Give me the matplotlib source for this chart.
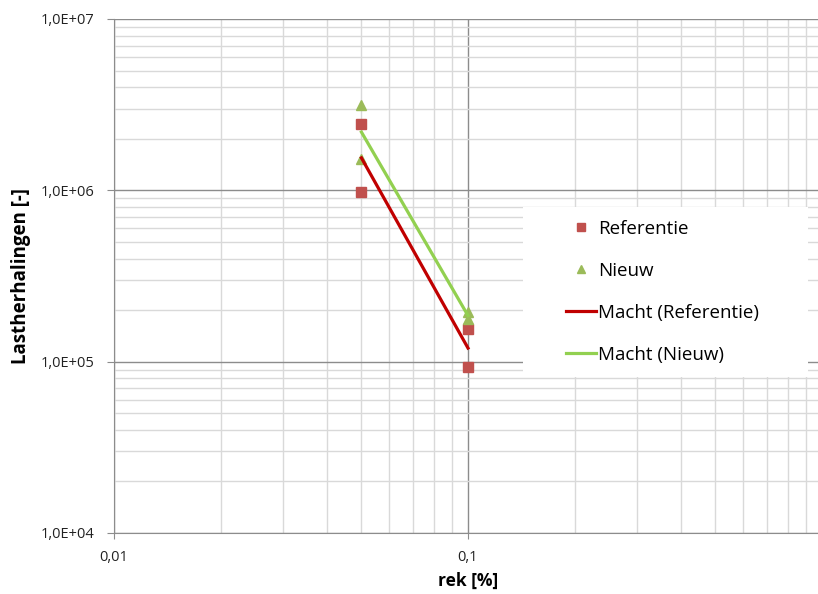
import numpy as np
import matplotlib; matplotlib.use("Agg")
import matplotlib.pyplot as plt
from matplotlib.ticker import LogLocator, FixedLocator, FixedFormatter, NullFormatter
from matplotlib.patches import Rectangle

plt.rcParams["font.family"] = ["Open Sans", "DejaVu Sans"]

# strain [%] vs load repetitions
ref_x = [0.05, 0.05, 0.1, 0.1]
ref_y = [2.44e6, 9.8e5, 1.55e5, 9.3e4]
new_x = [0.05, 0.05, 0.1, 0.1]
new_y = [3.15e6, 1.52e6, 1.95e5, 1.77e5]

y_ticks = [1e4, 1e5, 1e6, 1e7]
y_labels = ["1,0E+04", "1,0E+05", "1,0E+06", "1,0E+07"]
x_ticks = [0.01, 0.1, 1]
x_labels = ["0,01", "0,1", "1"]

RED_PT, GREEN_PT = "#C0504D", "#9BBB59"
RED_LN, GREEN_LN = "#C00000", "#92D050"

def power_fit(x, y):
    # y = a * x^b, least squares in log-log space
    b, loga = np.polyfit(np.log10(x), np.log10(y), 1)
    xs = np.array([min(x), max(x)])
    return xs, 10 ** loga * xs ** b

W, H = 818, 594
fig = plt.figure(figsize=(W / 100, H / 100), dpi=100)
ax = fig.add_axes([114 / W, 1 - 533 / H, (822 - 114) / W, (533 - 19) / H])
ax.set_xscale("log"); ax.set_yscale("log")
ax.set_xlim(0.01, 1); ax.set_ylim(1e4, 1e7)

ax.xaxis.set_major_locator(FixedLocator(x_ticks))
ax.xaxis.set_major_formatter(FixedFormatter(x_labels))
ax.yaxis.set_major_locator(FixedLocator(y_ticks))
ax.yaxis.set_major_formatter(FixedFormatter(y_labels))
for a in (ax.xaxis, ax.yaxis):
    a.set_minor_locator(LogLocator(base=10, subs=np.arange(2, 10)))
    a.set_minor_formatter(NullFormatter())

ax.grid(True, which="minor", color="#d9d9d9", lw=1.0, zorder=0)
ax.grid(True, which="major", color="#8c8c8c", lw=1.0, zorder=0)
ax.set_axisbelow(True)
for s in ("top", "right"):
    ax.spines[s].set_visible(False)
for s in ("left", "bottom"):
    ax.spines[s].set_color("#8c8c8c")
ax.tick_params(which="major", direction="out", color="#8c8c8c", labelsize=10.5, labelcolor="#222222")
ax.tick_params(axis="y", which="major", length=5, pad=9)
ax.tick_params(axis="x", which="major", length=4, pad=8)
ax.tick_params(which="minor", length=0)

ax.plot(ref_x, ref_y, "s", color=RED_PT, ms=7, label="Referentie", zorder=3, clip_on=False)
ax.plot(new_x, new_y, "^", color=GREEN_PT, ms=7, label="Nieuw", zorder=3, clip_on=False)
fx, fy = power_fit(ref_x, ref_y)
ax.plot(fx, fy, color=RED_LN, lw=2.3, label="Macht (Referentie)", zorder=4)
fx, fy = power_fit(new_x, new_y)
ax.plot(fx, fy, color=GREEN_LN, lw=2.3, label="Macht (Nieuw)", zorder=4)

ax.set_xlabel("rek [%]", fontsize=12.5, fontweight="bold", labelpad=5)
ax.set_ylabel("Lastherhalingen [-]", fontsize=13.5, fontweight="bold", labelpad=7)

# white legend panel
fig.add_artist(Rectangle((523 / W, 1 - 377 / H), (808 - 523) / W, (377 - 207) / H,
                         transform=fig.transFigure, facecolor="white", edgecolor="none", zorder=5))
leg = fig.legend(loc="upper left", bbox_to_anchor=(549 / W, 1 - 203 / H), frameon=False,
                 fontsize=13.5, labelspacing=1.28, handlelength=1.6, handletextpad=0.1,
                 markerscale=0.85)
leg.set_zorder(6)

fig.savefig("out.png", dpi=100)
